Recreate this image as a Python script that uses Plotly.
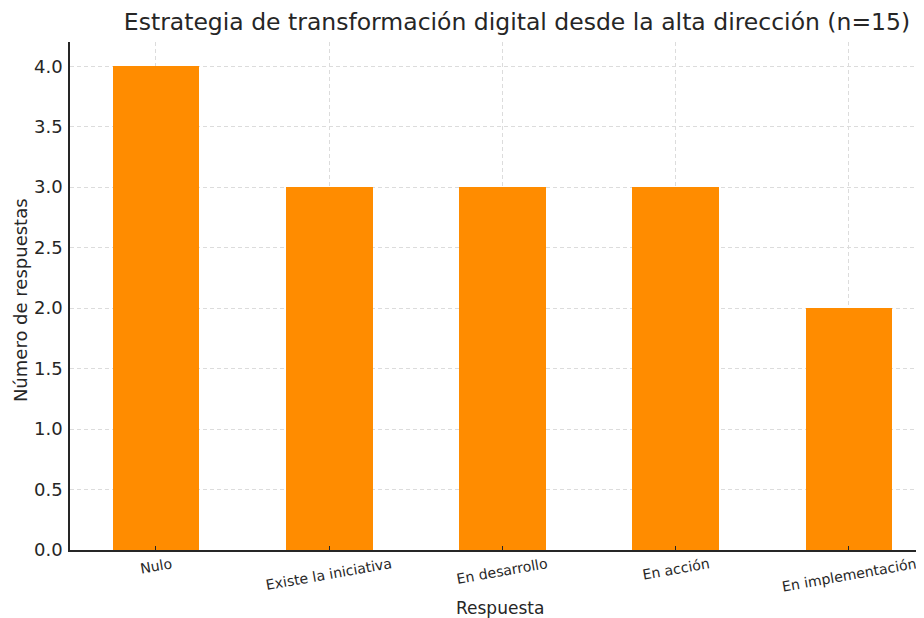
import plotly.graph_objects as go

categorias = ["Nulo", "Existe la iniciativa", "En desarrollo", "En acción", "En implementación"]
respuestas = [4, 3, 3, 3, 2]
y_ticks = [0.0, 0.5, 1.0, 1.5, 2.0, 2.5, 3.0, 3.5, 4.0]
y_tick_labels = ["0.0", "0.5", "1.0", "1.5", "2.0", "2.5", "3.0", "3.5", "4.0"]

posiciones = list(range(len(categorias)))

fig = go.Figure(go.Bar(
    x=posiciones,
    y=respuestas,
    width=0.5,
    marker=dict(color="#FF8C00", line=dict(width=0)),
))

grid = "#dcdcdc"
ink = "#262626"

# rotated category labels, centred under each tick (matplotlib style)
tick_annots = [
    dict(text=c, xref="x", yref="paper", x=p, y=-0.008,
         xanchor="center", yanchor="top", showarrow=False, textangle=-10,
         borderpad=0, font=dict(size=14.1, color=ink))
    for p, c in zip(posiciones, categorias)
]

# page body has an 8px margin, so the figure is sized to fill the 924x618 window
fig.update_layout(
    width=916, height=610,
    margin=dict(l=62, r=0, t=34, b=68),
    plot_bgcolor="white", paper_bgcolor="white",
    font=dict(family="DejaVu Sans", color=ink),
    title=dict(text="Estrategia de transformación digital desde la alta dirección (n=15)",
               x=0.5557, xanchor="center", y=0.977, yanchor="middle",
               font=dict(size=23.5, color=ink)),
    showlegend=False,
    bargap=0,
    annotations=tick_annots + [
        dict(text="Respuesta", xref="paper", yref="paper", x=0.5035, y=-0.114,
             xanchor="center", yanchor="middle", showarrow=False,
             font=dict(size=17, color=ink)),
        dict(text="Número de respuestas", xref="paper", yref="paper", x=-0.0585, y=0.492,
             xanchor="center", yanchor="middle", showarrow=False, textangle=-90,
             font=dict(size=18, color=ink)),
    ],
)
fig.update_xaxes(
    tickmode="array", tickvals=posiciones, ticktext=categorias,
    showticklabels=False,
    range=[-0.496, 4.433],
    showline=True, linecolor=ink, linewidth=1.5,
    ticks="inside", ticklen=4, tickcolor=ink,
    showgrid=True, gridcolor=grid, griddash="4px,3px", gridwidth=1,
    automargin=False,
    zeroline=False,
)
fig.update_yaxes(
    tickmode="array", tickvals=y_ticks, ticktext=y_tick_labels,
    tickfont=dict(size=18),
    range=[0, 4.2],
    showline=True, linecolor=ink, linewidth=1.5,
    ticks="outside", ticklen=2, tickcolor="rgba(0,0,0,0)",
    showgrid=True, gridcolor=grid, griddash="4px,3px", gridwidth=1,
    automargin=False,
    zeroline=False,
)

fig.write_html("out.html")
